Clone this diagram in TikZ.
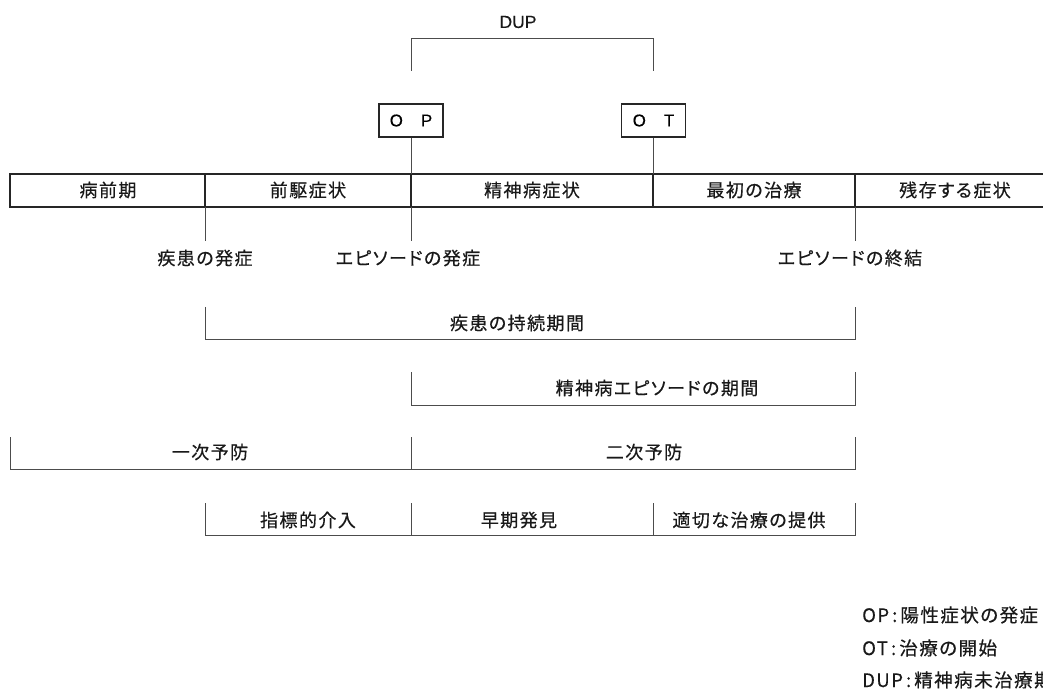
\documentclass[tikz,border=0pt]{standalone}
\usepackage{fontspec}
\setmainfont{Noto Sans CJK JP}[LetterSpace=8,FakeBold=0.5,RawFeature=+palt]
\newfontfamily\latinfont{Liberation Sans}[FakeBold=0.3]
\begin{document}
\begin{tikzpicture}[x=1pt,y=-1pt,
  band/.style={line width=1.4pt,draw=black!85},
  thin/.style={line width=0.9pt,draw=black!70},
  lbl/.style={inner sep=0pt,font=\fontsize{18}{21}\selectfont,text=black!90},
  leg/.style={inner sep=0pt,anchor=west,font=\fontsize{18.5}{21}\selectfont,text=black!90},
  obox/.style={draw=black!85,line width=1.2pt,minimum width=64pt,minimum height=33pt,inner sep=0pt,font=\latinfont\fontsize{17}{20}\selectfont}]
\useasboundingbox (0,0) rectangle (1043,692);
\clip (0,0) rectangle (1043,692);
% band
\coordinate (bL) at (10,174);
\coordinate (bR) at (1043,174);
\coordinate (bLb) at (10,207);
\coordinate (bRb) at (1043,207);
\draw[band] (bR) -- (bL) -- (bLb) -- (bRb);
\foreach \x/\n in {205/a,411/b,653/c,855/d}{
  \coordinate (t\n) at (\x,174);
  \coordinate (u\n) at (\x,207);
  \draw[band] (t\n) -- (u\n);
}
\node[lbl] (c1) at (108,190) {病前期};
\node[lbl] (c2) at (308,190) {前駆症状};
\node[lbl] (c3) at (532,190) {精神病症状};
\node[lbl] (c4) at (754,190) {最初の治療};
\node[lbl] (c5) at (955,190) {残存する症状};
% DUP
\node[lbl,font=\latinfont\fontsize{17.5}{20}\selectfont] (dup) at (518,22) {DUP};
\coordinate (dl) at (411,71);
\coordinate (dr) at (653,71);
\draw[thin] (dl) -- (411,38) -- (653,38) -- (dr);
\node[obox] (op) at (411,120.5) {O\hspace{18pt}P};
\node[obox] (ot) at (653.5,120.5) {O\hspace{18pt}T};
\draw[thin] (op.south) -- (tb);
\draw[thin] (ot.south -| tc) -- (tc);
% ticks below band
\coordinate (ea) at (205,241);
\coordinate (eb) at (411,241);
\coordinate (ed) at (855,241);
\draw[thin] (ua) -- (ea);
\draw[thin] (ub) -- (eb);
\draw[thin] (ud) -- (ed);
\node[lbl] (on1) at (205,258) {疾患の発症};
\node[lbl] (on2) at (408,258) {エピソードの発症};
\node[lbl] (en) at (850,258) {エピソードの終結};
% duration of illness
\coordinate (p1) at (205,307);
\coordinate (p2) at (855,307);
\draw[thin] (p1) -- (205,339) -- (855,339) -- (p2);
\node[lbl] (dur) at (517,323) {疾患の持続期間};
% episode
\coordinate (q1) at (411,372);
\coordinate (q2) at (855,372);
\draw[thin] (q1) -- (411,405) -- (855,405) -- (q2);
\node[lbl] (epi) at (657,388) {精神病エピソードの期間};
% prevention
\coordinate (r1) at (10,437);
\coordinate (r2) at (411,437);
\coordinate (r3) at (855,437);
\draw[thin] (r1) -- (10,469) -- (855,469) -- (r3);
\draw[thin] (r2) -- (411,469);
\node[lbl] (prim) at (210,452) {一次予防};
\node[lbl] (sec) at (644,452) {二次予防};
% interventions
\coordinate (s1) at (205,503);
\coordinate (s2) at (411,503);
\coordinate (s3) at (653,503);
\coordinate (s4) at (855,503);
\draw[thin] (s1) -- (205,535) -- (855,535) -- (s4);
\draw[thin] (s2) -- (411,535);
\draw[thin] (s3) -- (653,535);
\node[lbl] (i1) at (308,520) {指標的介入};
\node[lbl] (i2) at (519,520) {早期発見};
\node[lbl] (i3) at (749,520) {適切な治療の提供};
% legend
\node[leg] (l1) at (862,615) {OP\,:\,陽性症状の発症};
\node[leg] (l2) at (862,648) {OT\,:\,治療の開始};
\node[leg] (l3) at (862,680) {DUP\,:\,精神病未治療期間};
\end{tikzpicture}
\end{document}
